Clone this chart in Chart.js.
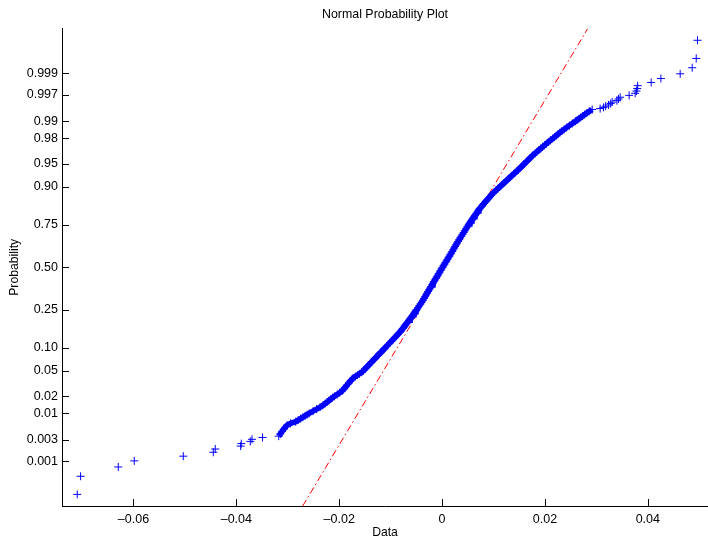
<!DOCTYPE html>
<html>
<head>
<meta charset="utf-8">
<script src="https://cdn.jsdelivr.net/npm/chart.js@4/dist/chart.umd.min.js"></script>
<style>
  html, body { margin: 0; padding: 0; background: #fff; }
  #wrap { width: 708px; height: 544px; }
</style>
</head>
<body>
<div id="wrap"><canvas id="c" width="708" height="544"></canvas></div>
<script>
// Sorted sample values (Data) with their plotting probabilities.
const lowerTailValues = [-0.07094, -0.07028, -0.06296, -0.05985, -0.05032, -0.04448, -0.04410, -0.03916, -0.03904, -0.03729, -0.03696, -0.03491];
const lowerTailProbs  = [0.00015, 0.00044, 0.00074, 0.00103, 0.00132, 0.00162, 0.00191, 0.00221, 0.00250, 0.00279, 0.00309, 0.00338];

const bodyProbs = [
  0.0036, 0.004, 0.0045, 0.005, 0.0055, 0.006, 0.0065, 0.007, 0.0075, 0.008, 0.0085, 0.009, 0.0095,
  0.010, 0.011, 0.012, 0.013, 0.014, 0.015, 0.016, 0.017, 0.018, 0.019, 0.020, 0.0215, 0.023, 0.0245,
  0.026, 0.0275, 0.029, 0.031, 0.033, 0.035, 0.037, 0.039, 0.041, 0.043, 0.045, 0.0475, 0.050, 0.0525,
  0.055, 0.0575, 0.060, 0.063, 0.066, 0.069, 0.072, 0.075, 0.078, 0.081, 0.084, 0.087, 0.090, 0.094,
  0.097, 0.100, 0.105, 0.110, 0.115, 0.120, 0.125, 0.130, 0.135, 0.140, 0.145, 0.150, 0.155, 0.160,
  0.165, 0.170, 0.175, 0.180, 0.185, 0.190, 0.195, 0.200, 0.205, 0.210, 0.215, 0.220, 0.225, 0.230,
  0.235, 0.240, 0.245, 0.250, 0.26, 0.27, 0.28, 0.29, 0.30, 0.31, 0.32, 0.33, 0.34, 0.35, 0.36, 0.37,
  0.38, 0.39, 0.40, 0.41, 0.42, 0.43, 0.44, 0.45, 0.46, 0.47, 0.48, 0.49, 0.50, 0.51, 0.52, 0.53, 0.54,
  0.55, 0.56, 0.57, 0.58, 0.59, 0.60, 0.61, 0.62, 0.63, 0.64, 0.65, 0.66, 0.67, 0.68, 0.69, 0.70, 0.71,
  0.72, 0.73, 0.74, 0.75, 0.755, 0.76, 0.765, 0.77, 0.775, 0.78, 0.785, 0.79, 0.795, 0.80, 0.805, 0.81,
  0.815, 0.82, 0.825, 0.83, 0.835, 0.84, 0.845, 0.85, 0.855, 0.86, 0.865, 0.87, 0.875, 0.88, 0.885,
  0.89, 0.895, 0.90, 0.903, 0.906, 0.91, 0.913, 0.916, 0.919, 0.922, 0.925, 0.928, 0.931, 0.934, 0.937,
  0.94, 0.9425, 0.945, 0.9475, 0.95, 0.9525, 0.955, 0.957, 0.959, 0.961, 0.963, 0.965, 0.967, 0.969,
  0.971, 0.9725, 0.974, 0.9755, 0.977, 0.9785, 0.98, 0.981, 0.982, 0.983, 0.984, 0.985, 0.986, 0.987,
  0.988, 0.989, 0.990, 0.9905, 0.991, 0.9915, 0.992, 0.9925, 0.993, 0.9935, 0.994
];
const bodyValues = [
  -0.03176, -0.03146, -0.03111, -0.03078, -0.03044, -0.03013, -0.02946, -0.02847, -0.02798, -0.02751, -0.02707, -0.02665, -0.02625,
  -0.02586, -0.02509, -0.02438, -0.02372, -0.02317, -0.02275, -0.02236, -0.02199, -0.02164, -0.02129, -0.02092, -0.02039, -0.01990, -0.01944,
  -0.01918, -0.01893, -0.01870, -0.01840, -0.01810, -0.01783, -0.01756, -0.01731, -0.01688, -0.01647, -0.01608, -0.01560, -0.01530, -0.01502,
  -0.01476, -0.01450, -0.01425, -0.01396, -0.01369, -0.01342, -0.01316, -0.01291, -0.01266, -0.01243, -0.01220, -0.01197, -0.01175, -0.01147,
  -0.01127, -0.01107, -0.01075, -0.01043, -0.01013, -0.00984, -0.00955, -0.00928, -0.00901, -0.00875, -0.00849, -0.00824, -0.00803, -0.00783,
  -0.00764, -0.00746, -0.00727, -0.00710, -0.00692, -0.00675, -0.00657, -0.00641, -0.00624, -0.00608, -0.00592, -0.00576, -0.00561, -0.00547,
  -0.00534, -0.00521, -0.00508, -0.00495, -0.00469, -0.00444, -0.00420, -0.00396, -0.00372, -0.00352, -0.00331, -0.00312, -0.00292, -0.00272, -0.00253, -0.00234,
  -0.00215, -0.00196, -0.00177, -0.00159, -0.00140, -0.00121, -0.00103, -0.00084, -0.00066, -0.00047, -0.00029, -0.00010, 0.00008, 0.00027, 0.00046, 0.00065, 0.00084,
  0.00103, 0.00122, 0.00141, 0.00160, 0.00178, 0.00197, 0.00215, 0.00234, 0.00252, 0.00271, 0.00290, 0.00311, 0.00332, 0.00353, 0.00375, 0.00397, 0.00419,
  0.00441, 0.00464, 0.00488, 0.00514, 0.00527, 0.00540, 0.00554, 0.00567, 0.00581, 0.00595, 0.00610, 0.00624, 0.00639, 0.00653, 0.00668, 0.00684,
  0.00699, 0.00715, 0.00731, 0.00750, 0.00771, 0.00792, 0.00814, 0.00837, 0.00860, 0.00883, 0.00907, 0.00932, 0.00957, 0.00983, 0.01015,
  0.01049, 0.01085, 0.01122, 0.01144, 0.01167, 0.01199, 0.01224, 0.01249, 0.01275, 0.01302, 0.01330, 0.01358, 0.01388, 0.01418, 0.01449,
  0.01482, 0.01511, 0.01538, 0.01566, 0.01595, 0.01625, 0.01657, 0.01683, 0.01710, 0.01739, 0.01768, 0.01804, 0.01842, 0.01881,
  0.01923, 0.01956, 0.01991, 0.02028, 0.02067, 0.02109, 0.02154, 0.02186, 0.02219, 0.02254, 0.02290, 0.02329, 0.02373, 0.02422,
  0.02475, 0.02532, 0.02594, 0.02626, 0.02660, 0.02695, 0.02733, 0.02772, 0.02814, 0.02861, 0.02918
];

const upperTailValues = [0.03073, 0.03137, 0.03180, 0.03235, 0.03278, 0.03307, 0.03398, 0.03429, 0.03462, 0.03637, 0.03754, 0.03779, 0.03793, 0.03803, 0.04065, 0.04254, 0.04629, 0.04863, 0.04941, 0.04966];
const upperTailProbs  = [0.99426, 0.99456, 0.99485, 0.99515, 0.99544, 0.99574, 0.99603, 0.99632, 0.99662, 0.99691, 0.99721, 0.99750, 0.99779, 0.99809, 0.99838, 0.99868, 0.99897, 0.99926, 0.99956, 0.99985];

// Reference normal line (dash-dot), end points at the edges of the probability range.
const fitLineValues = [-0.0271, 0.0283];
const fitLineProbs  = [0.0000723, 0.9999277];

const probTicks      = [0.001, 0.003, 0.01, 0.02, 0.05, 0.10, 0.25, 0.50, 0.75, 0.90, 0.95, 0.98, 0.99, 0.997, 0.999];
const probTickLabels = ['0.001', '0.003', '0.01', '0.02', '0.05', '0.10', '0.25', '0.50', '0.75', '0.90', '0.95', '0.98', '0.99', '0.997', '0.999'];
const dataTicks      = [-0.06, -0.04, -0.02, 0, 0.02, 0.04];
const dataTickLabels = ['\u20130.06', '\u20130.04', '\u20130.02', '0', '0.02', '0.04'];

const dataRange = [-0.0739, 0.0517];
const quantileRange = [-3.8, 3.8];

// Inverse of the standard normal CDF (Acklam's rational approximation).
function probit(p) {
  const a = [-3.969683028665376e+01, 2.209460984245205e+02, -2.759285104469687e+02, 1.383577518672690e+02, -3.066479806614716e+01, 2.506628277459239e+00];
  const b = [-5.447609879822406e+01, 1.615858368580409e+02, -1.556989798598866e+02, 6.680131188771972e+01, -1.328068155288572e+01];
  const c = [-7.784894002430293e-03, -3.223964580411365e-01, -2.400758277161838e+00, -2.549732539343734e+00, 4.374664141464968e+00, 2.938163982698783e+00];
  const d = [7.784695709041462e-03, 3.224671290700398e-01, 2.445134137142996e+00, 3.754408661907416e+00];
  const pl = 0.02425;
  let q, r;
  if (p < pl) {
    q = Math.sqrt(-2 * Math.log(p));
    return (((((c[0]*q + c[1])*q + c[2])*q + c[3])*q + c[4])*q + c[5]) / ((((d[0]*q + d[1])*q + d[2])*q + d[3])*q + 1);
  }
  if (p > 1 - pl) {
    q = Math.sqrt(-2 * Math.log(1 - p));
    return -(((((c[0]*q + c[1])*q + c[2])*q + c[3])*q + c[4])*q + c[5]) / ((((d[0]*q + d[1])*q + d[2])*q + d[3])*q + 1);
  }
  q = p - 0.5; r = q * q;
  return (((((a[0]*r + a[1])*r + a[2])*r + a[3])*r + a[4])*r + a[5]) * q / (((((b[0]*r + b[1])*r + b[2])*r + b[3])*r + b[4])*r + 1);
}

const toPoints = (xs, ps) => xs.map((v, i) => ({ x: v, y: probit(ps[i]) }));

const FONT = 'Helvetica, "Liberation Sans", Arial, sans-serif';

// Tick marks drawn inward from the axis lines.
const inwardTicks = {
  id: 'inwardTicks',
  afterDraw(chart) {
    const { ctx, chartArea: a, scales: { x, y } } = chart;
    const left = Math.round(a.left), bottom = Math.round(a.bottom);
    ctx.save();
    ctx.strokeStyle = '#000';
    ctx.lineWidth = 1;
    ctx.beginPath();
    x.ticks.forEach(t => {
      const px = Math.round(x.getPixelForValue(t.value)) + 0.5;
      ctx.moveTo(px, bottom);
      ctx.lineTo(px, bottom - 7);
    });
    y.ticks.forEach(t => {
      const py = Math.round(y.getPixelForValue(t.value)) + 0.5;
      ctx.moveTo(left, py);
      ctx.lineTo(left + 7, py);
    });
    ctx.stroke();
    ctx.restore();
  }
};

const markerStyle = {
  pointStyle: 'cross',
  pointRadius: 4,
  pointHoverRadius: 4,
  pointBorderWidth: 1,
  pointBorderColor: '#0000ff',
  borderColor: '#0000ff',
  backgroundColor: '#0000ff'
};

new Chart(document.getElementById('c'), {
  type: 'scatter',
  data: {
    datasets: [
      Object.assign({ label: 'lower', data: toPoints(lowerTailValues, lowerTailProbs), showLine: false }, markerStyle),
      // the densely packed middle of the sample reads as a solid band
      Object.assign({ label: 'body', data: toPoints(bodyValues, bodyProbs), showLine: true, borderWidth: 5.5 }, markerStyle),
      Object.assign({ label: 'upper', data: toPoints(upperTailValues, upperTailProbs), showLine: false }, markerStyle),
      {
        label: 'fit',
        data: toPoints(fitLineValues, fitLineProbs),
        showLine: true,
        borderColor: '#ff0000',
        borderWidth: 1,
        borderDash: [7, 3, 1.5, 3],
        pointRadius: 0,
        pointHoverRadius: 0,
        fill: false
      }
    ]
  },
  options: {
    responsive: false,
    devicePixelRatio: 1,
    animation: false,
    events: [],
    layout: { padding: 0, autoPadding: false },
    plugins: {
      legend: { display: false },
      tooltip: { enabled: false },
      title: {
        display: true,
        text: 'Normal Probability Plot',
        color: '#000',
        fullSize: false,
        font: { family: FONT, size: 12.4, weight: 'normal' },
        padding: { top: 7, bottom: 6.8 }
      }
    },
    scales: {
      x: {
        type: 'linear',
        min: dataRange[0],
        max: dataRange[1],
        afterBuildTicks: s => { s.ticks = dataTicks.map(v => ({ value: v })); },
        afterFit: s => { s.height = 38; },
        grid: { display: false, drawTicks: false },
        border: { display: true, color: '#000', width: 1 },
        ticks: {
          autoSkip: false,
          maxRotation: 0,
          padding: 6,
          color: '#000',
          font: { family: FONT, size: 12.5 },
          callback: (v, i) => dataTickLabels[i]
        },
        title: {
          display: true,
          text: 'Data',
          color: '#000',
          font: { family: FONT, size: 12.2 },
          padding: { top: 0, bottom: 4 }
        }
      },
      y: {
        type: 'linear',
        min: quantileRange[0],
        max: quantileRange[1],
        afterBuildTicks: s => { s.ticks = probTicks.map(p => ({ value: probit(p) })); },
        afterFit: s => { s.width = 62; },
        grid: { display: false, drawTicks: false },
        border: { display: true, color: '#000', width: 1 },
        ticks: {
          autoSkip: false,
          padding: 4,
          color: '#000',
          font: { family: FONT, size: 12.5 },
          callback: (v, i) => probTickLabels[i]
        },
        title: {
          display: true,
          text: 'Probability',
          color: '#000',
          font: { family: FONT, size: 12.2 },
          padding: { top: 7, bottom: 0 }
        }
      }
    }
  },
  plugins: [inwardTicks]
});
</script>
</body>
</html>
